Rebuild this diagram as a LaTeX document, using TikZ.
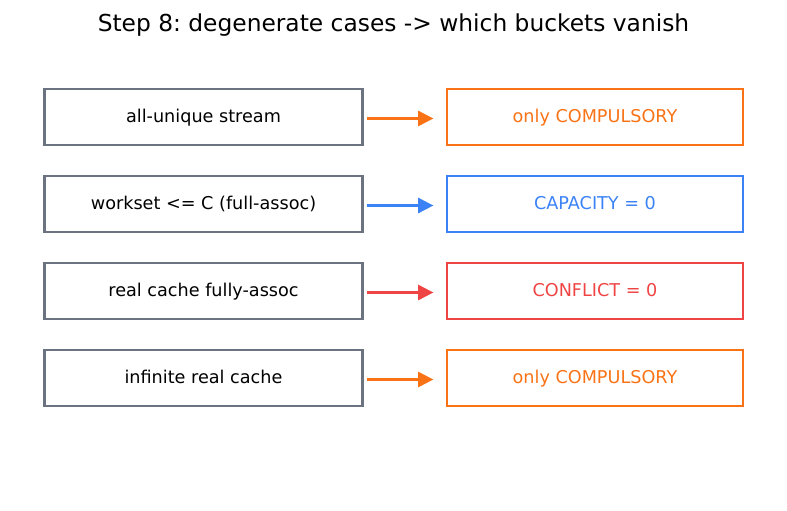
\documentclass[tikz,border=0pt]{standalone}
\usepackage{fontspec}
\setmainfont{DejaVu Sans}
\frenchspacing
\usetikzlibrary{calc}
\usetikzlibrary{arrows.meta}
\definecolor{casegray}{HTML}{6B7280}
\definecolor{caseorange}{HTML}{F97316}
\definecolor{caseblue}{HTML}{3B82F6}
\definecolor{casered}{HTML}{EF4444}
\newcommand{\tikzrowgap}{87}
\newcommand{\tikzleftx}{203.5}
\newcommand{\tikzrightx}{595}
\tikzstyle{casebox}=[draw=casegray,line width=1.5pt,minimum width=229pt,minimum height=40pt,inner sep=0pt,text height=0.98em,text depth=0.24em,font=\fontsize{12.7}{15}\selectfont]
\tikzstyle{vanishbox}=[draw,line width=1.5pt,minimum width=212.5pt,minimum height=40pt,inner sep=0pt,text height=0.98em,text depth=0.24em,font=\fontsize{12.7}{15}\selectfont]
\tikzstyle{vanisharrow}=[line width=1.5pt,-{Triangle[length=11pt,width=11pt]},shorten <=2.2pt,shorten >=9.4pt]

\begin{document}
\begin{tikzpicture}[x=0.72pt,y=-0.72pt]
  \useasboundingbox (0,0) rectangle (787,510);
  % title
  \node[font=\fontsize{16.8}{20}\selectfont] (title) at (393.5,25.5) {Step 8: degenerate cases -> which buckets vanish};
  % cases and vanishing buckets
  \foreach \i/\case/\bucket/\col in {%
    0/all-unique stream/only COMPULSORY/caseorange,
    1/workset <= C (full-assoc)/CAPACITY = 0/caseblue,
    2/real cache fully-assoc/CONFLICT = 0/casered,
    3/infinite real cache/only COMPULSORY/caseorange}
  {
    \node[casebox] (case\i) at ($(\tikzleftx,117)+\i*(0,\tikzrowgap)$) {\case};
    \node[vanishbox,draw=\col,text=\col] (bucket\i) at ($(\tikzrightx,117)+\i*(0,\tikzrowgap)$) {\bucket};
    \draw[vanisharrow,draw=\col,fill=\col] ($(case\i.east)+(0,1.5)$) -- ($(bucket\i.west)+(0,1.5)$);
  }
\end{tikzpicture}
\end{document}
